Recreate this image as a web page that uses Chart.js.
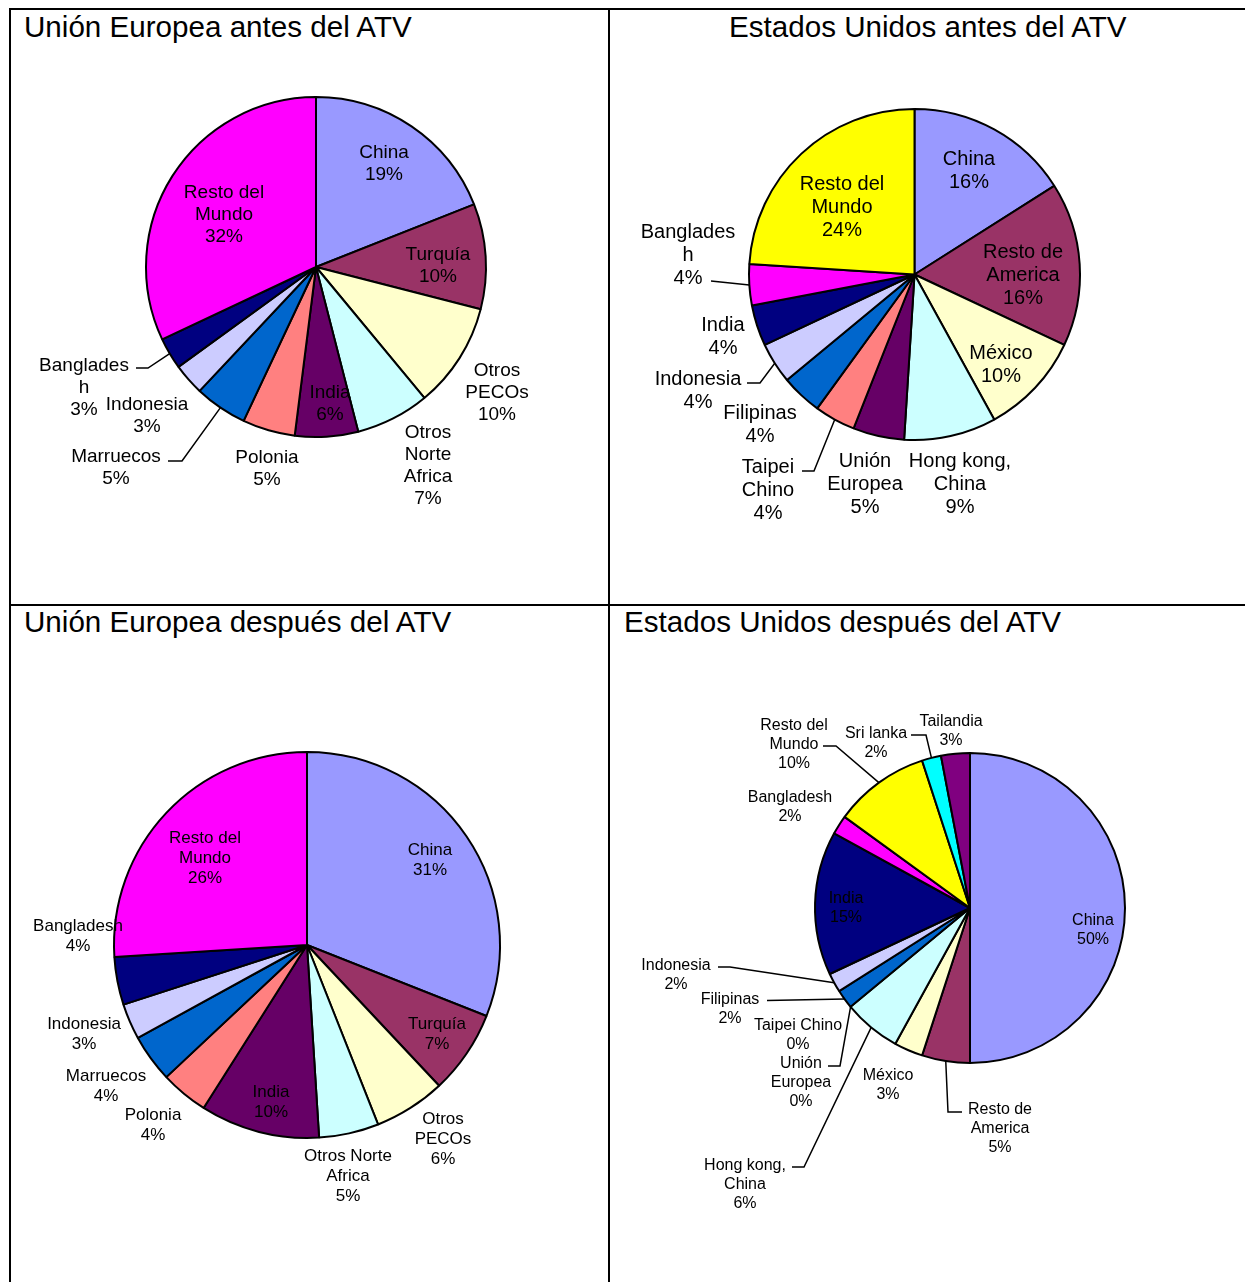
<!DOCTYPE html>
<html><head><meta charset="utf-8">
<script src="https://cdn.jsdelivr.net/npm/chart.js@4.4.1/dist/chart.umd.min.js"></script>
<style>
html,body{margin:0;padding:0;background:#fff;}
#page{position:relative;width:1245px;height:1282px;overflow:hidden;font-family:"Liberation Sans",Arial,sans-serif;}
canvas{position:absolute;left:0;top:0;}
.rule{position:absolute;background:#000;}
.title{position:absolute;font-size:29.6px;line-height:34px;white-space:nowrap;color:#000;}
</style></head>
<body><div id="page">
<div class="rule" style="left:9px;top:8px;width:1236px;height:2px"></div>
<div class="rule" style="left:9px;top:8px;width:2px;height:1274px"></div>
<div class="rule" style="left:608px;top:8px;width:2px;height:1274px"></div>
<div class="rule" style="left:9px;top:604px;width:1236px;height:2px"></div>
<div class="title" id="t1" style="left:24px;top:10px"></div>
<div class="title" id="t2" style="left:729px;top:10px"></div>
<div class="title" id="t3" style="left:24px;top:605px"></div>
<div class="title" id="t4" style="left:624px;top:605px"></div>
<canvas id="c1" width="1245" height="1282"></canvas>
<canvas id="c2" width="1245" height="1282"></canvas>
<canvas id="c3" width="1245" height="1282"></canvas>
<canvas id="c4" width="1245" height="1282"></canvas>
</div>
<script>
// ---------------- DATA ----------------
const chartTitles = ['Unión Europea antes del ATV','Estados Unidos antes del ATV','Unión Europea después del ATV','Estados Unidos después del ATV'];

const ueAntesCategories = ['China','Turquía','Otros PECOs','Otros Norte Africa','India','Polonia','Marruecos','Indonesia','Bangladesh','Resto del Mundo'];
const ueAntesValues = [19,10,10,7,6,5,5,3,3,32];

const usAntesCategories = ['China','Resto de America','México','Hong kong, China','Unión Europea','Taipei Chino','Filipinas','Indonesia','India','Bangladesh','Resto del Mundo'];
const usAntesValues = [16,16,10,9,5,4,4,4,4,4,24];

const ueDespuesCategories = ['China','Turquía','Otros PECOs','Otros Norte Africa','India','Polonia','Marruecos','Indonesia','Bangladesh','Resto del Mundo'];
const ueDespuesValues = [31,7,6,5,10,4,4,3,4,26];

const usDespuesCategories = ['China','Resto de America','México','Hong kong, China','Unión Europea','Taipei Chino','Filipinas','Indonesia','India','Bangladesh','Resto del Mundo','Sri lanka','Tailandia'];
const usDespuesValues = [50,5,3,6,0,0,2,2,15,2,10,2,3];

// ---------------- STYLE / LAYOUT ----------------
const palette = ['#9999FF','#993366','#FFFFCC','#CCFFFF','#660066','#FF8080','#0066CC','#CCCCFF','#000080','#FF00FF','#FFFF00','#00FFFF','#800080'];
const PAGE_W = 1245, PAGE_H = 1282;

const layouts = [
  { canvas:'c1', center:[316,267], radius:170, font:19, lh:22, textDy:1.8, labels:[
    {lines:['China'], at:[68,-105]},
    {lines:['Turquía'], at:[122,-3]},
    {lines:['Otros','PECOs'], at:[181,124]},
    {lines:['Otros','Norte','Africa'], at:[112,197]},
    {lines:['India'], at:[14,135]},
    {lines:['Polonia'], at:[-49,200]},
    {lines:['Marruecos'], at:[-200,199], leader:[[52,-5],[66,-5]]},
    {lines:['Indonesia'], at:[-169,147]},
    {lines:['Banglades','h'], at:[-232,118.5], leader:[[52,-17.5],[64,-17.5]]},
    {lines:['Resto del','Mundo'], at:[-92,-54]}
  ]},
  { canvas:'c2', center:[914.5,274.5], radius:165.5, font:20, lh:23, textDy:1.2, labels:[
    {lines:['China'], at:[54.5,-105]},
    {lines:['Resto de','America'], at:[108.5,0]},
    {lines:['México'], at:[86.5,89]},
    {lines:['Hong kong,','China'], at:[45.5,209]},
    {lines:['Unión','Europea'], at:[-49.5,208.5]},
    {lines:['Taipei','Chino'], at:[-146.5,214.5], leader:[[34,-18],[46,-18]]},
    {lines:['Filipinas'], at:[-154.5,149]},
    {lines:['Indonesia'], at:[-216.5,115], leader:[[49,-6.5],[62,-6.5]]},
    {lines:['India'], at:[-191.5,61]},
    {lines:['Banglades','h'], at:[-226.5,-20], leader:[[23,26.5]]},
    {lines:['Resto del','Mundo'], at:[-72.5,-68]}
  ]},
  { canvas:'c3', center:[307,945], radius:193, font:17, lh:20, textDy:1.8, labels:[
    {lines:['China'], at:[123,-86]},
    {lines:['Turquía'], at:[130,88]},
    {lines:['Otros','PECOs'], at:[136,192.5]},
    {lines:['Otros Norte','Africa'], at:[41,230]},
    {lines:['India'], at:[-36,156]},
    {lines:['Polonia'], at:[-154,178.5]},
    {lines:['Marruecos'], at:[-201,140]},
    {lines:['Indonesia'], at:[-223,88]},
    {lines:['Bangladesh'], at:[-229,-10]},
    {lines:['Resto del','Mundo'], at:[-102,-88]}
  ]},
  { canvas:'c4', center:[970,908], radius:155, font:16, lh:19, textDy:1.8, labels:[
    {lines:['China'], at:[123,20.5]},
    {lines:['Resto de','America'], at:[30,219], leader:[[-38,-15],[-52,-15]]},
    {lines:['México'], at:[-82,175]},
    {lines:['Hong kong,','China'], at:[-225,275], leader:[[47,-16],[59,-16]]},
    {lines:['Unión','Europea'], at:[-169,173], leader:[[27,-15],[39,-15]]},
    {lines:['Taipei Chino'], at:[-172,125.5]},
    {lines:['Filipinas'], at:[-240,99.5], leader:[[37,-7]]},
    {lines:['Indonesia'], at:[-294,65.5], leader:[[42,-6.5],[54,-6.5]]},
    {lines:['India'], at:[-124,-1.5]},
    {lines:['Bangladesh'], at:[-180,-102.5]},
    {lines:['Resto del','Mundo'], at:[-176,-165.5], leader:[[29,3.5],[42,3.5]]},
    {lines:['Sri lanka'], at:[-94,-167], leader:[[35,-6],[50,-6]]},
    {lines:['Tailandia'], at:[-19,-179]}
  ]}
];

const datasets = [
  [ueAntesCategories, ueAntesValues],
  [usAntesCategories, usAntesValues],
  [ueDespuesCategories, ueDespuesValues],
  [usDespuesCategories, usDespuesValues]
];

function padFor(c){
  return {
    left: Math.max(0, 2*c[0]-PAGE_W), right: Math.max(0, PAGE_W-2*c[0]),
    top: Math.max(0, 2*c[1]-PAGE_H), bottom: Math.max(0, PAGE_H-2*c[1])
  };
}

const labelPlugin = {
  id: 'pieLabels',
  afterDatasetsDraw(chart, args, opts) {
    const L = opts.layout; const ctx = chart.ctx;
    const meta = chart.getDatasetMeta(0);
    const values = chart.data.datasets[0].data;
    ctx.save();
    ctx.font = L.font + 'px "Liberation Sans", Arial, sans-serif';
    ctx.textAlign = 'center'; ctx.textBaseline = 'middle';
    ctx.fillStyle = '#000'; ctx.strokeStyle = '#000'; ctx.lineWidth = 1.5;
    meta.data.forEach((arc, i) => {
      const spec = L.labels[i];
      const p = arc.getProps(['x','y','startAngle','endAngle','outerRadius'], true);
      const lx = p.x + spec.at[0], ly = p.y + spec.at[1];
      if (spec.leader) {
        const mid = (p.startAngle + p.endAngle) / 2;
        ctx.beginPath();
        spec.leader.forEach((q, k) => { if (k) ctx.lineTo(lx+q[0], ly+q[1]); else ctx.moveTo(lx+q[0], ly+q[1]); });
        ctx.lineTo(p.x + p.outerRadius*Math.cos(mid), p.y + p.outerRadius*Math.sin(mid));
        ctx.stroke();
      }
      const lines = spec.lines.concat([values[i] + '%']);
      lines.forEach((t, k) => ctx.fillText(t, lx, ly + L.textDy + (k - (lines.length-1)/2) * L.lh));
    });
    ctx.restore();
  }
};

chartTitles.forEach((t, i) => { document.getElementById('t'+(i+1)).textContent = t; });

layouts.forEach((L, i) => {
  const [cats, vals] = datasets[i];
  new Chart(document.getElementById(L.canvas), {
    type: 'pie',
    data: { labels: cats, datasets: [{
      data: vals,
      backgroundColor: palette.slice(0, vals.length),
      borderColor: '#000', borderWidth: 2,
      radius: L.radius
    }]},
    options: {
      responsive: false, animation: false, devicePixelRatio: 1, events: [],
      layout: { padding: padFor(L.center) },
      plugins: { legend: {display:false}, tooltip: {enabled:false}, title: {display:false}, pieLabels: {layout: L} }
    },
    plugins: [labelPlugin]
  });
});
</script>
</body></html>
